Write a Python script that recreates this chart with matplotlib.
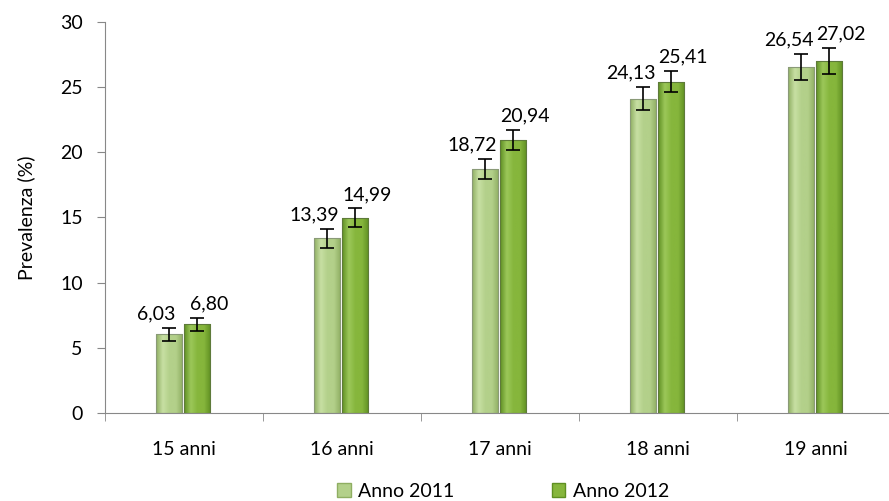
import numpy as np
import matplotlib.pyplot as plt
from matplotlib.patches import Patch
from matplotlib.colors import LinearSegmentedColormap

plt.rcParams['font.family'] = ['Lato', 'DejaVu Sans']

categories = ['15 anni', '16 anni', '17 anni', '18 anni', '19 anni']
anno_2011 = [6.03, 13.39, 18.72, 24.13, 26.54]
anno_2012 = [6.80, 14.99, 20.94, 25.41, 27.02]
err_2011 = [0.5, 0.75, 0.8, 0.9, 1.0]
err_2012 = [0.5, 0.7, 0.75, 0.8, 1.0]
labels_2011 = ['6,03', '13,39', '18,72', '24,13', '26,54']
labels_2012 = ['6,80', '14,99', '20,94', '25,41', '27,02']


def gradient_bars(ax, bars, edge, mid, light):
    # horizontal shading like the Excel bevel bars
    cmap = LinearSegmentedColormap.from_list('g', [edge, light, mid, mid, edge])
    grad = np.linspace(0, 1, 64).reshape(1, -1)
    for b in bars:
        x0, y0 = b.get_x(), b.get_y()
        w, h = b.get_width(), b.get_height()
        im = ax.imshow(grad, cmap=cmap, aspect='auto', extent=(x0, x0 + w, y0, y0 + h),
                       zorder=2, interpolation='bicubic')
        im.set_clip_path(b)
        b.set_facecolor('none')


fig = plt.figure(figsize=(8.89, 5.01), dpi=100)
ax = fig.add_axes([0.118, 0.176, 0.889, 0.78])

x = np.arange(len(categories))
w = 0.165
x1 = x - 0.096
x2 = x + 0.08
b1 = ax.bar(x1, anno_2011, w, color='#a8c878', edgecolor='#8a9a78', linewidth=0.8, zorder=3)
b2 = ax.bar(x2, anno_2012, w, color='#7fae34', edgecolor='#5e7a3a', linewidth=0.8, zorder=3)
gradient_bars(ax, b1, '#8fae62', '#b3d08a', '#c8e0a4')
gradient_bars(ax, b2, '#5f8f22', '#86b63c', '#9cc85a')

ax.errorbar(x1, anno_2011, yerr=err_2011, fmt='none', ecolor='black', elinewidth=1.2,
            capsize=5, capthick=1.2, zorder=4)
ax.errorbar(x2, anno_2012, yerr=err_2012, fmt='none', ecolor='black', elinewidth=1.2,
            capsize=5, capthick=1.2, zorder=4)

for i in range(len(categories)):
    ax.annotate(labels_2011[i], (x1[i], anno_2011[i] + err_2011[i]), xytext=(-9, 4),
                textcoords='offset points', ha='center', va='bottom', fontsize=14)
    ax.annotate(labels_2012[i], (x2[i], anno_2012[i] + err_2012[i]), xytext=(9, 4),
                textcoords='offset points', ha='center', va='bottom', fontsize=14)

ax.set_xlim(-0.5, len(categories) - 0.5)
ax.set_ylim(0, 30)
ax.set_yticks(range(0, 31, 5))
ax.set_xticks(x)
ax.set_xticklabels(categories, fontsize=14)
ax.set_xticks(np.arange(-0.5, len(categories), 1), minor=True)
ax.tick_params(axis='x', which='major', length=0, pad=20)
ax.tick_params(axis='x', which='minor', length=6, color='#888888')
ax.tick_params(axis='y', length=6, color='#888888', labelsize=14, pad=10)
ax.set_ylabel('Prevalenza (%)', fontsize=14, labelpad=18)

for s in ['top', 'right']:
    ax.spines[s].set_visible(False)
for s in ['left', 'bottom']:
    ax.spines[s].set_color('#888888')

handles = [Patch(facecolor='#b3d08a', edgecolor='#8fae62', label='Anno 2011'),
           Patch(facecolor='#86b63c', edgecolor='#5f8f22', label='Anno 2012')]
fig.legend(handles=handles, loc='lower center', bbox_to_anchor=(0.566, -0.033), ncol=2,
           frameon=False, fontsize=14, handlelength=0.7, handleheight=0.7,
           columnspacing=5, handletextpad=0.4)

fig.savefig('out.png', dpi=100)
